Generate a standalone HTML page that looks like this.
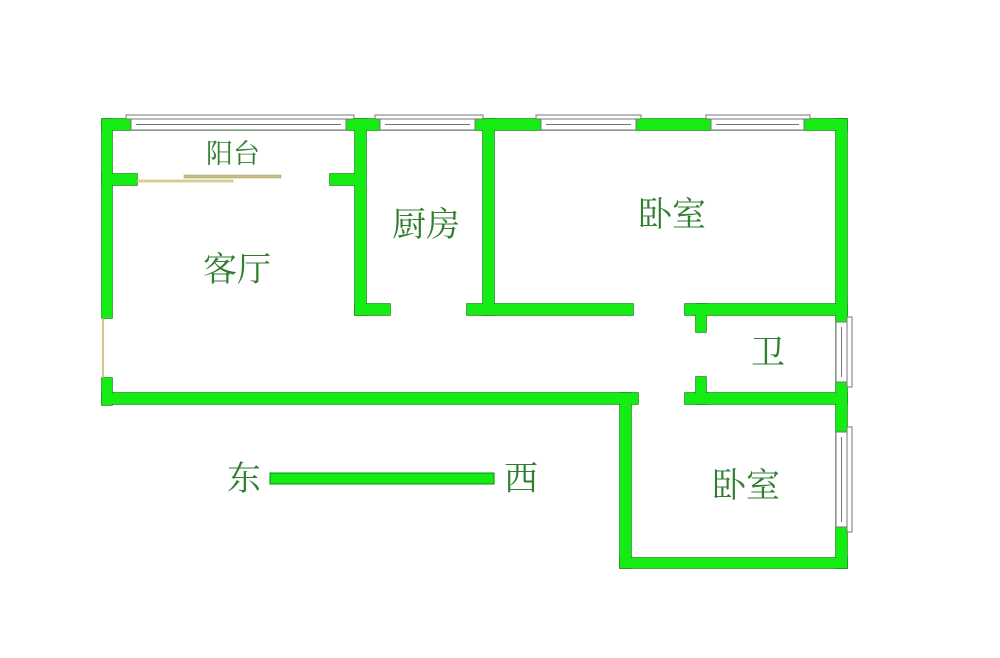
<!DOCTYPE html>
<html><head><meta charset="utf-8"><style>
html,body{margin:0;padding:0;background:#fff;}
svg{display:block}
text{font-family:"Liberation Serif","Noto Serif CJK SC","Noto Sans CJK SC",serif;fill:#2f7f2f;}
</style></head><body>
<svg width="1000" height="658" viewBox="0 0 1000 658" xmlns="http://www.w3.org/2000/svg">
<defs>
<g id="w">
<rect x="102" y="119" width="745" height="11"/>
<rect x="102" y="119" width="10" height="199"/>
<rect x="102" y="378" width="10" height="27"/>
<rect x="102" y="393" width="536" height="11"/>
<rect x="102" y="174" width="35" height="11"/>
<rect x="330" y="174" width="30" height="11"/>
<rect x="355" y="119" width="11" height="196"/>
<rect x="355" y="304" width="35" height="11"/>
<rect x="483" y="119" width="11" height="196"/>
<rect x="467" y="304" width="166" height="11"/>
<rect x="685" y="304" width="162" height="11"/>
<rect x="836" y="119" width="11" height="449"/>
<rect x="696" y="304" width="10" height="28"/>
<rect x="696" y="377" width="10" height="27"/>
<rect x="685" y="393" width="162" height="11"/>
<rect x="620" y="393" width="11" height="175"/>
<rect x="620" y="558" width="227" height="10"/>
</g>
</defs>
<use href="#w" fill="#14ec14" stroke="#0c8a0c" stroke-width="1.5"/>
<use href="#w" fill="#14ec14" stroke="none"/>
<rect x="270" y="473" width="224" height="11" fill="#14ec14" stroke="#0c8a0c" stroke-width="1"/>
<g fill="#fff" stroke="#777" stroke-width="1">
<rect x="126" y="115" width="228" height="4"/>
<rect x="131" y="119" width="215" height="11"/>
<rect x="375" y="115" width="108" height="4"/>
<rect x="380" y="119" width="95" height="11"/>
<rect x="536" y="115" width="105" height="4"/>
<rect x="541" y="119" width="95" height="11"/>
<rect x="706" y="115" width="104" height="4"/>
<rect x="711" y="119" width="93" height="11"/>
<rect x="847" y="317" width="5" height="70"/>
<rect x="836" y="322" width="11" height="60"/>
<rect x="847" y="427" width="5" height="105"/>
<rect x="836" y="432" width="11" height="95"/>
</g>
<g stroke="#777" stroke-width="1">
<line x1="136" y1="124.5" x2="341" y2="124.5"/>
<line x1="385" y1="124.5" x2="470" y2="124.5"/>
<line x1="546" y1="124.5" x2="631" y2="124.5"/>
<line x1="716" y1="124.5" x2="799" y2="124.5"/>
<line x1="841.5" y1="327" x2="841.5" y2="377"/>
<line x1="841.5" y1="437" x2="841.5" y2="522"/>
</g>
<line x1="103" y1="318" x2="103" y2="378" stroke="#c9b36a" stroke-width="1.5"/>
<rect x="184" y="175" width="97" height="3" fill="#c8bf86" stroke="#a09a60" stroke-width="0.5"/>
<rect x="137" y="180" width="96" height="2" fill="#e6dc9a" stroke="#b0a460" stroke-width="0.5"/>
<text x="233" y="163" font-size="27" text-anchor="middle">阳台</text>
<text x="237" y="281" font-size="34" text-anchor="middle">客厅</text>
<text x="426" y="236" font-size="34" text-anchor="middle">厨房</text>
<text x="672" y="226" font-size="34" text-anchor="middle">卧室</text>
<text x="768" y="364" font-size="34" text-anchor="middle">卫</text>
<text x="746" y="497" font-size="34" text-anchor="middle">卧室</text>
<text x="244" y="490" font-size="34" text-anchor="middle">东</text>
<text x="521" y="490" font-size="34" text-anchor="middle">西</text>
</svg>
</body></html>
